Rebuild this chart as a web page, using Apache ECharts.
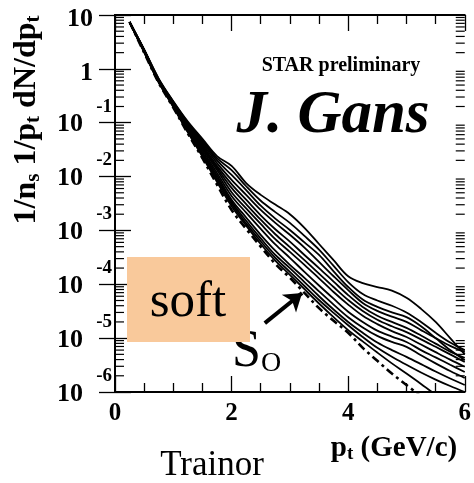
<!DOCTYPE html>
<html><head><meta charset="utf-8">
<script src="https://cdn.jsdelivr.net/npm/echarts@6/dist/echarts.min.js"></script>
<style>html,body{margin:0;padding:0;background:#fff}#c{width:474px;height:483px}</style>
</head><body><div id="c"></div>
<script>
// transverse momentum grid (GeV/c)
const ptGrid = [0.25,0.5,0.75,1.0,1.25,1.5,1.75,2.0,2.25,2.5,2.75,3.0,3.25,3.5,3.75,4.0,4.25,4.5,4.75,5.0,5.25,5.5,5.75,6.0];
// spectra 1/n_s 1/p_t dN/dp_t (solid curves)
const curveS1 = [7.4,2.29,0.66,0.251,0.105,0.0501,0.024,0.0158,0.00759,0.00457,0.00302,0.002,0.00112,5.6e-4,2.8e-4,1.41e-4,1.05e-4,8.9e-5,7.6e-5,5.6e-5,3.5e-5,2.0e-5,1.0e-5,5.0e-6];
const curveS2 = [7.4,2.24,0.646,0.245,0.1,0.0468,0.0219,0.0132,0.00661,0.00355,0.00219,0.00138,7.9e-4,4.4e-4,2.2e-4,1.1e-4,6.6e-5,5.0e-5,4.0e-5,3.0e-5,2.0e-5,1.26e-5,8.3e-6,6.0e-6];
const curveS3 = [7.4,2.24,0.631,0.24,0.0955,0.0437,0.02,0.0107,0.00562,0.00288,0.00166,0.00102,6.0e-4,3.5e-4,1.74e-4,8.9e-5,5.2e-5,3.8e-5,3.0e-5,2.45e-5,1.66e-5,1.0e-5,6.0e-6,3.9e-6];
const curveS4 = [7.4,2.24,0.631,0.234,0.0912,0.0407,0.0178,0.0087,0.00457,0.0024,0.00138,8.3e-4,4.8e-4,2.6e-4,1.41e-4,7.8e-5,4.5e-5,3.2e-5,2.5e-5,2.0e-5,1.41e-5,1.0e-5,7.2e-6,5.5e-6];
const curveS5 = [7.4,2.19,0.617,0.229,0.0871,0.038,0.0158,0.00724,0.00372,0.00191,0.00105,6.2e-4,3.5e-4,2.0e-4,1.12e-4,6.3e-5,3.8e-5,2.6e-5,2.0e-5,1.55e-5,1.12e-5,7.9e-6,5.6e-6,4.3e-6];
const curveS6 = [7.4,2.19,0.617,0.224,0.0832,0.0355,0.0145,0.00617,0.00309,0.00158,8.5e-4,4.9e-4,2.8e-4,1.58e-4,8.9e-5,5.1e-5,3.2e-5,2.2e-5,1.66e-5,1.29e-5,9.5e-6,6.9e-6,5.0e-6,3.6e-6];
const curveS7 = [7.4,2.14,0.603,0.219,0.0794,0.0331,0.0132,0.00513,0.00257,0.00132,6.9e-4,4.0e-4,2.3e-4,1.29e-4,7.2e-5,4.2e-5,2.6e-5,1.82e-5,1.35e-5,1.05e-5,7.6e-6,5.5e-6,4.0e-6,2.95e-6];
const curveS8 = [7.4,2.14,0.589,0.214,0.0759,0.0309,0.0117,0.00437,0.00214,0.00107,5.5e-4,3.1e-4,1.7e-4,9.5e-5,5.4e-5,3.1e-5,2.0e-5,1.38e-5,1.07e-5,8.5e-6,6.0e-6,4.4e-6,3.2e-6,2.35e-6];
const curveS9 = [7.4,2.09,0.575,0.209,0.0724,0.0282,0.0105,0.00372,0.00174,8.3e-4,4.2e-4,2.3e-4,1.32e-4,7.4e-5,4.2e-5,2.45e-5,1.58e-5,1.1e-5,8.5e-6,6.9e-6,4.8e-6,3.4e-6,2.45e-6,1.82e-6];
const curveS10 = [7.4,2.09,0.575,0.204,0.0692,0.0263,0.00955,0.00339,0.00151,7.1e-4,3.5e-4,2.0e-4,1.1e-4,6.0e-5,3.4e-5,2.0e-5,1.26e-5,8.3e-6,6.0e-6,4.5e-6,3.3e-6,2.4e-6,1.78e-6,1.35e-6];
const curveS11 = [7.4,2.04,0.562,0.2,0.0676,0.0245,0.0087,0.00309,0.00135,6.3e-4,3.1e-4,1.7e-4,9.3e-5,5.1e-5,2.95e-5,1.74e-5,1.05e-5,6.6e-6,4.5e-6,3.2e-6,2.3e-6,1.7e-6,1.29e-6,1.0e-6];
const curveS12 = [7.4,2.04,0.562,0.195,0.0661,0.0234,0.00794,0.00282,0.00123,5.6e-4,2.75e-4,1.5e-4,8.1e-5,4.4e-5,2.45e-5,1.41e-5,8.7e-6,5.4e-6,3.4e-6,2.2e-6,1.41e-6,8.9e-7];
// S0 reference (dash-dot)
const curveS0 = [7.4,2.0,0.55,0.191,0.0631,0.0219,0.00708,0.0024,0.00107,5.0e-4,2.4e-4,1.32e-4,6.9e-5,3.6e-5,2.1e-5,1.26e-5,6.6e-6,3.8e-6,2.2e-6,1.35e-6,8.3e-7];

const xTickLabels = ['0','2','4','6'];
const yTickBase = ['10','10','10','10','10','10','1','10'];   // for 1e-6 ... 1e1
const yTickExp  = ['-6','-5','-4','-3','-2','-1','',''];
const minorMultipliers = [2,3,4,5,6,7,8,9];
const minorDecades = [1e-6,1e-5,1e-4,1e-3,1e-2,1e-1,1];
const arrowTail = [2.57, 1.9e-5];
const arrowHead = [3.21, 6.9e-5];

const FONT = 'Liberation Serif';
const chart = echarts.init(document.getElementById('c'), null, {renderer:'canvas'});

const solidCurves = [curveS1,curveS2,curveS3,curveS4,curveS5,curveS6,curveS7,curveS8,curveS9,curveS10,curveS11,curveS12];
const series = solidCurves.map(c => ({
  type:'line', data:c.map((v,j)=>[ptGrid[j], v]), showSymbol:false, smooth:0.35,
  lineStyle:{color:'#000', width:1.8}, clip:true, silent:true, z:3
}));
series.push({
  type:'line', data:curveS0.map((v,j)=>[ptGrid[j], v]), showSymbol:false, smooth:0.35,
  lineStyle:{color:'#000', width:2.6, type:[8,4,3,4]}, clip:true, silent:true, z:3,
  markLine:{silent:true, symbol:['none','arrow'], symbolSize:[17,17], label:{show:false},
    lineStyle:{color:'#000', width:4, type:'solid'},
    data:[[{coord:arrowTail},{coord:arrowHead}]]}
});
const minorData = [];
minorDecades.forEach(d => minorMultipliers.forEach(m => { minorData.push([0, m*d]); minorData.push([6, m*d]); }));
series.push({
  type:'custom', data:minorData, clip:false, silent:true, z:4,
  renderItem:function(params, api){
    const p = api.coord([api.value(0), api.value(1)]);
    const left = api.value(0) === 0;
    return {type:'line', shape:{x1:p[0], y1:p[1], x2:p[0] + (left ? 9 : -9), y2:p[1]},
      style:{stroke:'#000', lineWidth:1.2}};
  }
});

function yFmt(v){
  const i = Math.round(Math.log10(v)) + 6;
  if (yTickExp[i] === '') return '{y| }\n{p|' + yTickBase[i] + '}';
  return '{e|' + yTickExp[i] + '}\n{b|' + yTickBase[i] + '}\n{z| }';
}
const axisCommon = {
  axisLine:{show:true, lineStyle:{color:'#000', width:2}},
  axisTick:{show:true, inside:true, length:16, lineStyle:{color:'#000', width:1.3}},
  splitLine:{show:false}
};
const opt = {
  animation:false,
  backgroundColor:'#fff',
  grid:{left:115, top:15, right:9, bottom:91, containLabel:false},
  xAxis:[
    Object.assign({type:'value', min:0, max:6, interval:2, position:'bottom',
      minorTick:{show:true, splitNumber:4, length:9, lineStyle:{color:'#000', width:1.3}},
      axisLabel:{show:true, margin:9, fontFamily:FONT, fontWeight:'bold', fontSize:25, color:'#000',
        formatter:function(v){ return xTickLabels[Math.round(v/2)]; }}}, axisCommon),
    Object.assign({type:'value', min:0, max:6, interval:2, position:'top',
      minorTick:{show:true, splitNumber:4, length:9, lineStyle:{color:'#000', width:1.3}},
      axisLabel:{show:false}}, axisCommon)
  ],
  yAxis:[
    Object.assign({type:'log', logBase:10, min:1e-6, max:10, interval:1, splitNumber:7, position:'left',
      axisLabel:{show:true, margin:3, formatter:yFmt, color:'#000', align:'right',
        rich:{
          e:{fontFamily:FONT, fontWeight:'bold', fontSize:19, lineHeight:18, color:'#000'},
          b:{fontFamily:FONT, fontWeight:'bold', fontSize:26, lineHeight:18, padding:[0,29,0,0], color:'#000'},
          z:{fontSize:4, lineHeight:14},
          y:{fontSize:4, lineHeight:8},
          p:{fontFamily:FONT, fontWeight:'bold', fontSize:26, lineHeight:24, padding:[0,19,0,0], color:'#000'}
        }}}, axisCommon),
    Object.assign({type:'log', logBase:10, min:1e-6, max:10, interval:1, splitNumber:7, position:'right',
      axisLabel:{show:false}}, axisCommon)
  ],
  series:series,
  graphic:[
    {type:'rect', shape:{x:127, y:257, width:123, height:85}, style:{fill:'#f9c99b'}, z:1, silent:true},
    {type:'text', x:188, y:303, z:2, silent:true, style:{text:'soft', font:'51px "Liberation Serif"', fill:'#000', align:'center', verticalAlign:'middle'}},
    {type:'text', x:27, y:120, rotation:Math.PI/2, silent:true,
      style:{text:'{m|1/n}{s|s}{m| 1/p}{s|t}{m| dN/dp}{s|t}', align:'center', verticalAlign:'middle',
        rich:{m:{fontFamily:FONT, fontWeight:'bold', fontSize:32, lineHeight:34, fill:'#000'},
              s:{fontFamily:FONT, fontWeight:'bold', fontSize:21, lineHeight:8, verticalAlign:'bottom', fill:'#000'}}}},
    {type:'text', x:394, y:449, silent:true,
      style:{text:'{m|p}{s|t}{m| (GeV/c)}', align:'center', verticalAlign:'middle',
        rich:{m:{fontFamily:FONT, fontWeight:'bold', fontSize:29, lineHeight:30, fill:'#000'},
              s:{fontFamily:FONT, fontWeight:'bold', fontSize:19, lineHeight:6, verticalAlign:'bottom', fill:'#000'}}}},
    {type:'text', x:341, y:66, silent:true, style:{text:'STAR preliminary', font:'bold 20px "Liberation Serif"', fill:'#000', align:'center', verticalAlign:'middle'}},
    {type:'text', x:333, y:116, silent:true, style:{text:'J. Gans', font:'italic bold 61px "Liberation Serif"', fill:'#000', align:'center', verticalAlign:'middle'}},
    {type:'text', x:232, y:352, silent:true, style:{text:'{S|S}{o|O}', align:'left', verticalAlign:'middle',
        rich:{S:{fontFamily:FONT, fontSize:52, lineHeight:52, fill:'#000'},
              o:{fontFamily:FONT, fontSize:28, lineHeight:10, verticalAlign:'bottom', fill:'#000'}}}},
    {type:'text', x:212, y:466, silent:true, style:{text:'Trainor', font:'35px "Liberation Serif"', fill:'#000', align:'center', verticalAlign:'middle'}}
  ]
};
chart.setOption(opt);
</script></body></html>
